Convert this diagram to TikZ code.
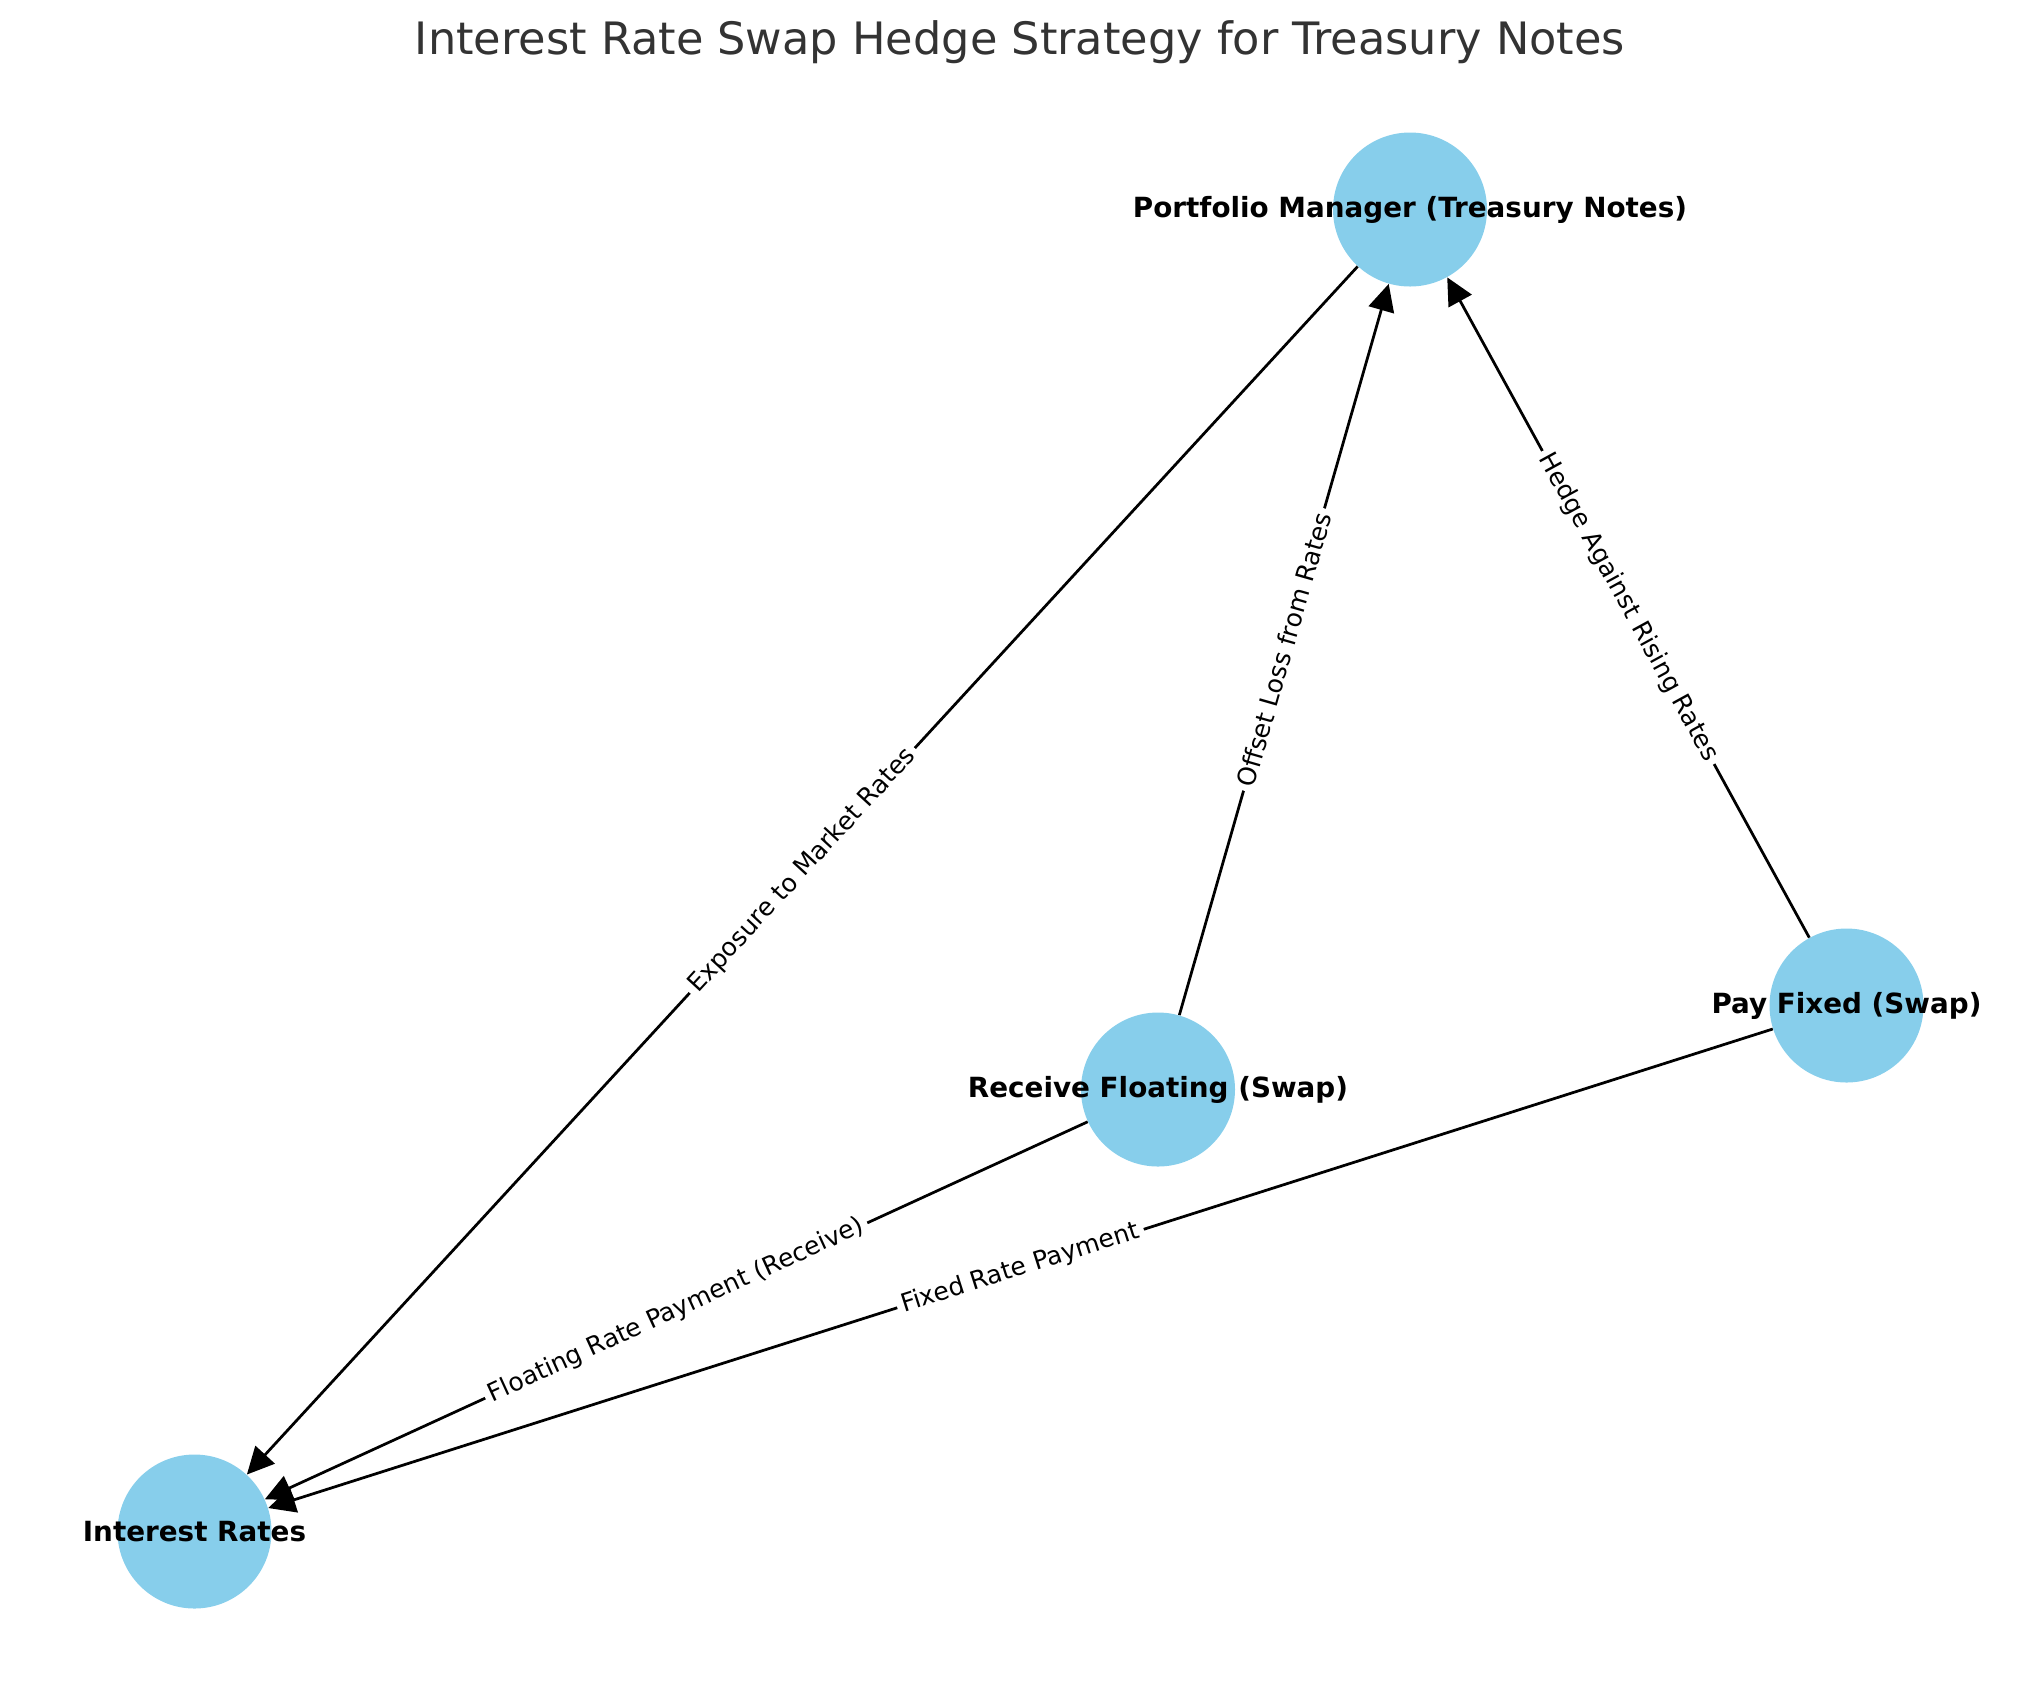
\documentclass[tikz,border=0pt]{standalone}
\usepackage{fontspec}
\setmainfont{DejaVu Sans}
\usetikzlibrary{arrows.meta}
\definecolor{nodeblue}{HTML}{87CEEB}
\definecolor{titlegray}{HTML}{333333}
\tikzset{
  graphnode/.style={circle, fill=nodeblue, draw=none, inner sep=0pt, minimum size=77bp},
  nodelabel/.style={font=\bfseries\fontsize{13.95}{16}\selectfont, text=black, inner sep=0pt},
  edgelabel/.style={font=\fontsize{12.6}{14}\selectfont, fill=white, sloped, inner sep=2.5bp, midway},
  flow/.style={line width=1.375bp, draw=black, -{Triangle[length=13.5bp,width=13bp]}},
  titletext/.style={font=\fontsize{22.4}{26}\selectfont, text=titlegray, inner sep=0pt}
}
\begin{document}
\begin{tikzpicture}[x=0.5bp, y=-0.5bp]
  \useasboundingbox (0,0) rectangle (2039,1690);
  \node[titletext, anchor=base] (title) at (1020,54) {Interest Rate Swap Hedge Strategy for Treasury Notes};

  \node[graphnode, label={[nodelabel]center:Portfolio Manager (Treasury Notes)}] (pm) at (1410,209.5) {};
  \node[graphnode, label={[nodelabel]center:Interest Rates}] (ir) at (194.5,1531.5) {};
  \node[graphnode, label={[nodelabel]center:Receive Floating (Swap)}] (rf) at (1158,1089.5) {};
  \node[graphnode, label={[nodelabel]center:Pay Fixed (Swap)}] (pf) at (1846.5,1005.5) {};

  \draw[flow] (pm) -- node[edgelabel] {Exposure to Market Rates} (ir);
  \draw[flow] (rf) -- node[edgelabel] {Offset Loss from Rates} (pm);
  \draw[flow] (pf) -- node[edgelabel] {Hedge Against Rising Rates} (pm);
  \draw[flow] (rf) -- node[edgelabel] {Floating Rate Payment (Receive)} (ir);
  \draw[flow] (pf) -- node[edgelabel] {Fixed Rate Payment} (ir);
\end{tikzpicture}
\end{document}
